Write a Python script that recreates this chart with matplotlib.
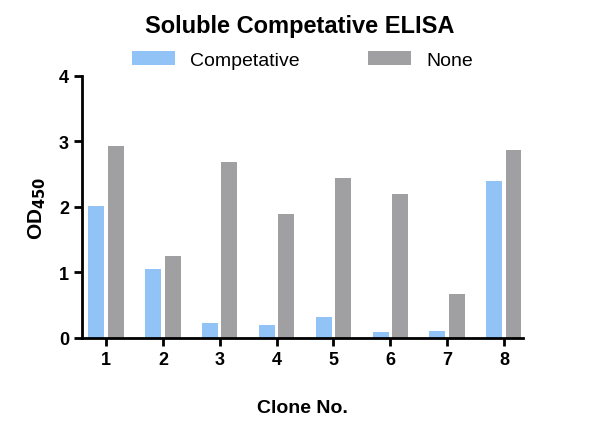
import matplotlib

matplotlib.use("Agg")
import matplotlib.pyplot as plt
import numpy as np

plt.rcParams["font.family"] = ["Liberation Sans", "DejaVu Sans"]

clones = [1, 2, 3, 4, 5, 6, 7, 8]
competative = [2.02, 1.05, 0.23, 0.20, 0.32, 0.09, 0.10, 2.40]
none = [2.93, 1.25, 2.69, 1.89, 2.44, 2.20, 0.67, 2.87]

fig = plt.figure(figsize=(6, 4.39), dpi=100)
ax = fig.add_axes([0.137, 0.228, 0.735, 0.597])

x = np.array(clones, dtype=float)
w = 0.28
ax.bar(x - 0.17, competative, width=w, color="#92c3f7", label="Competative")
ax.bar(x + 0.17, none, width=w, color="#a0a0a2", label="None")

ax.set_xlim(0.58, 8.34)
ax.set_ylim(0, 4)
ax.set_xticks(clones)
ax.set_yticks([0, 1, 2, 3, 4])
for s in ["top", "right"]:
    ax.spines[s].set_visible(False)
for s in ["left", "bottom"]:
    ax.spines[s].set_linewidth(2)
ax.tick_params(width=2, length=6, labelsize=13)
for lab in ax.get_xticklabels() + ax.get_yticklabels():
    lab.set_fontweight("bold")

ax.set_xlabel("Clone No.", fontsize=14, fontweight="bold", labelpad=22)
ax.set_ylabel("OD$_{\\mathbf{450}}$", fontsize=15, fontweight="bold", labelpad=8)
fig.suptitle("Soluble Competative ELISA", fontsize=17, fontweight="bold", y=0.965)
ax.legend(loc="lower center", bbox_to_anchor=(0.5, 0.96), ncol=2, frameon=False,
          fontsize=14, columnspacing=3.5, handlelength=2.2)

fig.savefig("out.png", dpi=100)
